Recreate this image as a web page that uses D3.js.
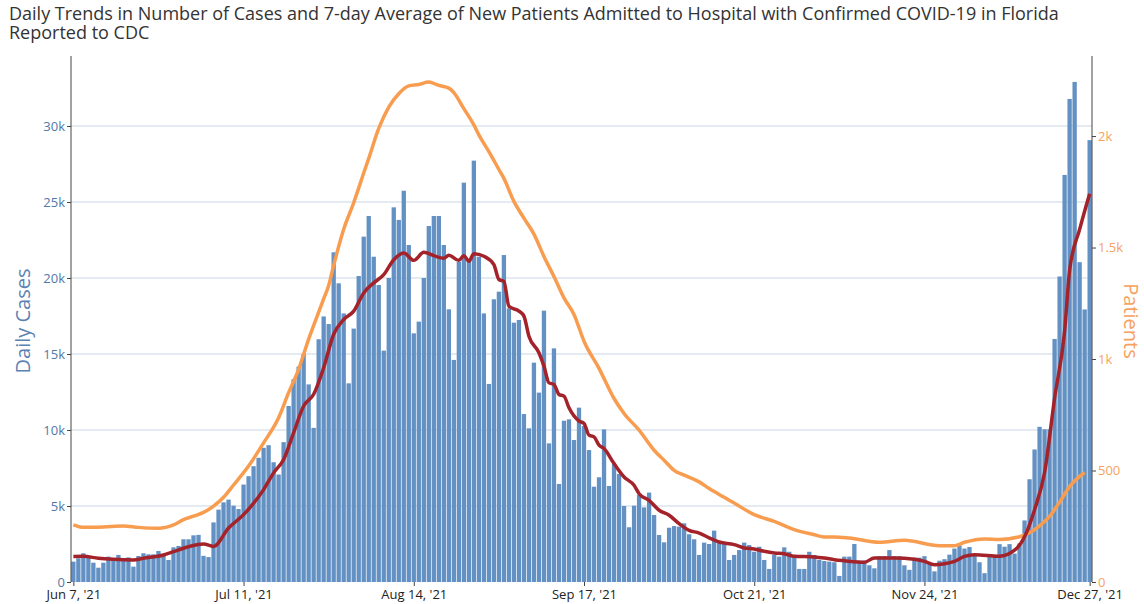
<!DOCTYPE html>
<html><head><meta charset="utf-8">
<script src="https://cdn.jsdelivr.net/npm/d3@7"></script>
<style>body{margin:0;background:#fff;} svg{display:block;}</style>
</head><body><svg id="c" width="1144" height="604"></svg>
<script>
const titleLines = ["Daily Trends in Number of Cases and 7-day Average of New Patients Admitted to Hospital with Confirmed COVID-19 in Florida", "Reported to CDC"];
const dayCount = 204;
const cases = [1340,1560,1890,1620,1270,940,1270,1670,1560,1780,1490,1620,1010,1710,1890,1820,1820,2040,1820,1450,2280,2370,2810,2810,
3070,3100,
1720,1640,3920,4760,5240,5420,5020,4800,6410,6960,7620,8170,8830,9000,7880,7070,9200,11580,13340,14170,15000,13000,10140,15970,17470,16970,
21690,19650,17670,13070,16670,20130,22720,24080,21400,19540,15220,20000,24650,23820,25740,22170,16360,17130,20000,23420,24080,24080,22170,17940,14610,21070,26270,
21070,27720,21400,17670,13030,18600,19100,21510,18000,17060,17240,11050,10110,14430,12460,17850,9120,15370,6450,10610,10700,9340,11470,10260,8680,6270,
6890,10040,6320,7760,7110,5000,3600,5020,5720,4910,5880,4410,3090,2610,3570,3680,3640,3860,3140,2810,1780,2590,2500,3380,2650,2550,
1450,1780,2100,2590,2430,1990,2320,1450,860,1780,1670,2280,1990,1670,860,860,1990,1780,1450,1380,1340,1300,400,1670,1670,2500,
1400,1400,1100,900,1700,1700,2100,1700,1700,1100,800,1600,1600,1700,1200,700,1400,1500,1800,2200,2400,2200,2300,1800,1300,
580,1640,1640,2490,2320,2490,1870,2540,4050,6760,8720,10210,10050,10050,15990,20100,26780,31780,32900,21040,17930,29070];
const avgDay = [0,2,5,8,12,14,18,20,23,26,28,31,34,38,40,42,44,46,48,50,52,54,56,58,60,62,64,66,68,70,72,74,75,77,78,79,80,82,84,85,86,87,89,90,91,93,94,95,96,97,98,99,101,102,103,104,105,106,108,110,112,113,115,117,119,121,123,125,127,129,132,134,136,138,140,142,144,148,150,152,154,158,160,164,168,170,172,174,176,178,180,185,188,190,192,194,196,198,199,201,203];
const avgVal = [1670,1690,1560,1490,1450,1560,1780,2000,2320,2500,2340,3550,4430,6080,7180,8060,9820,11580,12350,14100,16300,17270,17820,19020,19680,20220,21200,21640,21160,21690,21470,21300,21500,21160,21470,21100,21600,21430,20880,19900,19780,18140,17820,17490,16170,15080,14200,13100,13000,12340,12230,11460,10590,10430,9660,9550,9000,8780,7790,6910,6360,5810,5370,4720,4390,3840,3400,3220,2900,2630,2460,2240,2170,2020,1910,1860,1690,1650,1580,1470,1400,1300,1580,1580,1500,1360,1140,1200,1360,1690,1800,1690,2090,2980,4760,7200,12100,16500,20500,23200,25550];
const patDay = [0,2,6,10,13,17,20,22,24,26,28,30,32,35,38,41,43,45,47,49,50,51,52,54,56,58,59,61,63,65,67,69,71,73,75,76,78,80,81,83,85,86,88,90,92,94,96,98,100,102,105,108,110,113,116,118,120,122,125,127,130,132,136,140,144,148,150,152,155,161,166,173,176,178,182,185,189,191,193,195,197,199,202];
const patVal = [256,245,247,251,245,241,256,280,295,312,340,380,435,520,624,737,849,954,1089,1210,1270,1330,1420,1582,1701,1834,1900,2034,2130,2190,2225,2231,2242,2227,2215,2195,2123,2050,2005,1930,1850,1810,1707,1632,1560,1460,1370,1274,1200,1080,958,823,756,681,591,546,501,479,449,419,380,354,302,272,235,212,202,202,197,178,187,163,163,178,193,191,203,221,252,294,358,428,491];
const xTickDays = [0,34,68,102,136,170,203];
const xTickLabels = ["Jun 7, '21","Jul 11, '21","Aug 14, '21","Sep 17, '21","Oct 21, '21","Nov 24, '21","Dec 27, '21"];
const yTicks = [0,5000,10000,15000,20000,25000,30000];
const yTickLabels = ["0","5k","10k","15k","20k","25k","30k"];
const y2Ticks = [0,500,1000,1500,2000];
const y2TickLabels = ["0","500","1k","1.5k","2k"];

const svg = d3.select("#c");
const L = 71, R = 1092, T = 56, B = 582;
const days = d3.range(dayCount);
const x = d3.scaleBand().domain(days).range([L, R]).paddingInner(0.14).paddingOuter(0.04);
const xc = d => x(d) + x.bandwidth()/2;
const y = d3.scaleLinear().domain([0, 34605]).range([B, T]);
const y2 = d3.scaleLinear().domain([0, 2359]).range([B, T]);

svg.append("g").selectAll("line").data(yTicks.slice(1)).join("line")
  .attr("x1", L).attr("x2", R).attr("y1", d => y(d)).attr("y2", d => y(d))
  .attr("stroke", "#c9d6e5").attr("stroke-width", 1);

svg.append("g").selectAll("rect").data(cases).join("rect")
  .attr("x", (d,i) => x(i)).attr("width", x.bandwidth())
  .attr("y", d => y(d)).attr("height", d => B - y(d))
  .attr("fill", "#6391c3");

const line = d3.line().curve(d3.curveMonotoneX);
svg.append("path").attr("d", line(patDay.map((d,i) => [xc(d), y2(patVal[i])])))
  .attr("fill", "none").attr("stroke", "#f89c4f").attr("stroke-width", 3.5).attr("stroke-linejoin","round");
svg.append("path").attr("d", line(avgDay.map((d,i) => [xc(d), y(avgVal[i])])))
  .attr("fill", "none").attr("stroke", "#a4232b").attr("stroke-width", 3.5).attr("stroke-linejoin","round");

const font = "'Open Sans', sans-serif";
const yAxis = d3.axisLeft(y).tickValues(yTicks).tickFormat((d,i) => yTickLabels[i]).tickSize(4).tickSizeOuter(0);
const gy = svg.append("g").attr("transform", `translate(${L},0)`).call(yAxis);
gy.select(".domain").remove();
gy.append("line").attr("x1",0).attr("x2",0).attr("y1",T).attr("y2",B).attr("stroke","#444");
gy.selectAll(".tick line").attr("stroke","#444");
gy.selectAll(".tick text").attr("fill","#5278a8").attr("font-size",13).attr("font-family",font).attr("x",-6);

const y2Axis = d3.axisRight(y2).tickValues(y2Ticks).tickFormat((d,i) => y2TickLabels[i]).tickSize(4).tickSizeOuter(0);
const gy2 = svg.append("g").attr("transform", `translate(${R},0)`).call(y2Axis);
gy2.select(".domain").remove();
gy2.append("line").attr("x1",0).attr("x2",0).attr("y1",T).attr("y2",B).attr("stroke","#444");
gy2.selectAll(".tick line").attr("stroke","#444");
gy2.selectAll(".tick text").attr("fill","#f6a25e").attr("font-size",13).attr("font-family",font).attr("x",6);

const xAxis = d3.axisBottom(d3.scaleLinear().domain([0,203]).range([xc(0), xc(203)]))
  .tickValues(xTickDays).tickFormat((d,i) => xTickLabels[i]).tickSize(4).tickSizeOuter(0);
const gx = svg.append("g").attr("transform", `translate(0,${B})`).call(xAxis);
gx.select(".domain").remove();
gx.selectAll(".tick line").attr("stroke","#444");
gx.selectAll(".tick text").attr("fill","#222").attr("font-size",13).attr("font-family",font).attr("y",8);

svg.append("text").attr("transform", `translate(30,${(T+B)/2+2}) rotate(-90)`).attr("text-anchor","middle")
  .attr("font-family",font).attr("font-size",20).attr("fill","#5b82b3").text("Daily Cases");
svg.append("text").attr("transform", `translate(1124,${(T+B)/2+2}) rotate(90)`).attr("text-anchor","middle")
  .attr("font-family",font).attr("font-size",20).attr("fill","#f6a25e").text("Patients");

svg.append("g").selectAll("text").data(titleLines).join("text")
  .attr("x", 9).attr("y", (d,i) => 19.5 + i*19.5)
  .attr("font-family",font).attr("font-size",18).attr("fill","#333").text(d => d);
</script>
</body></html>
